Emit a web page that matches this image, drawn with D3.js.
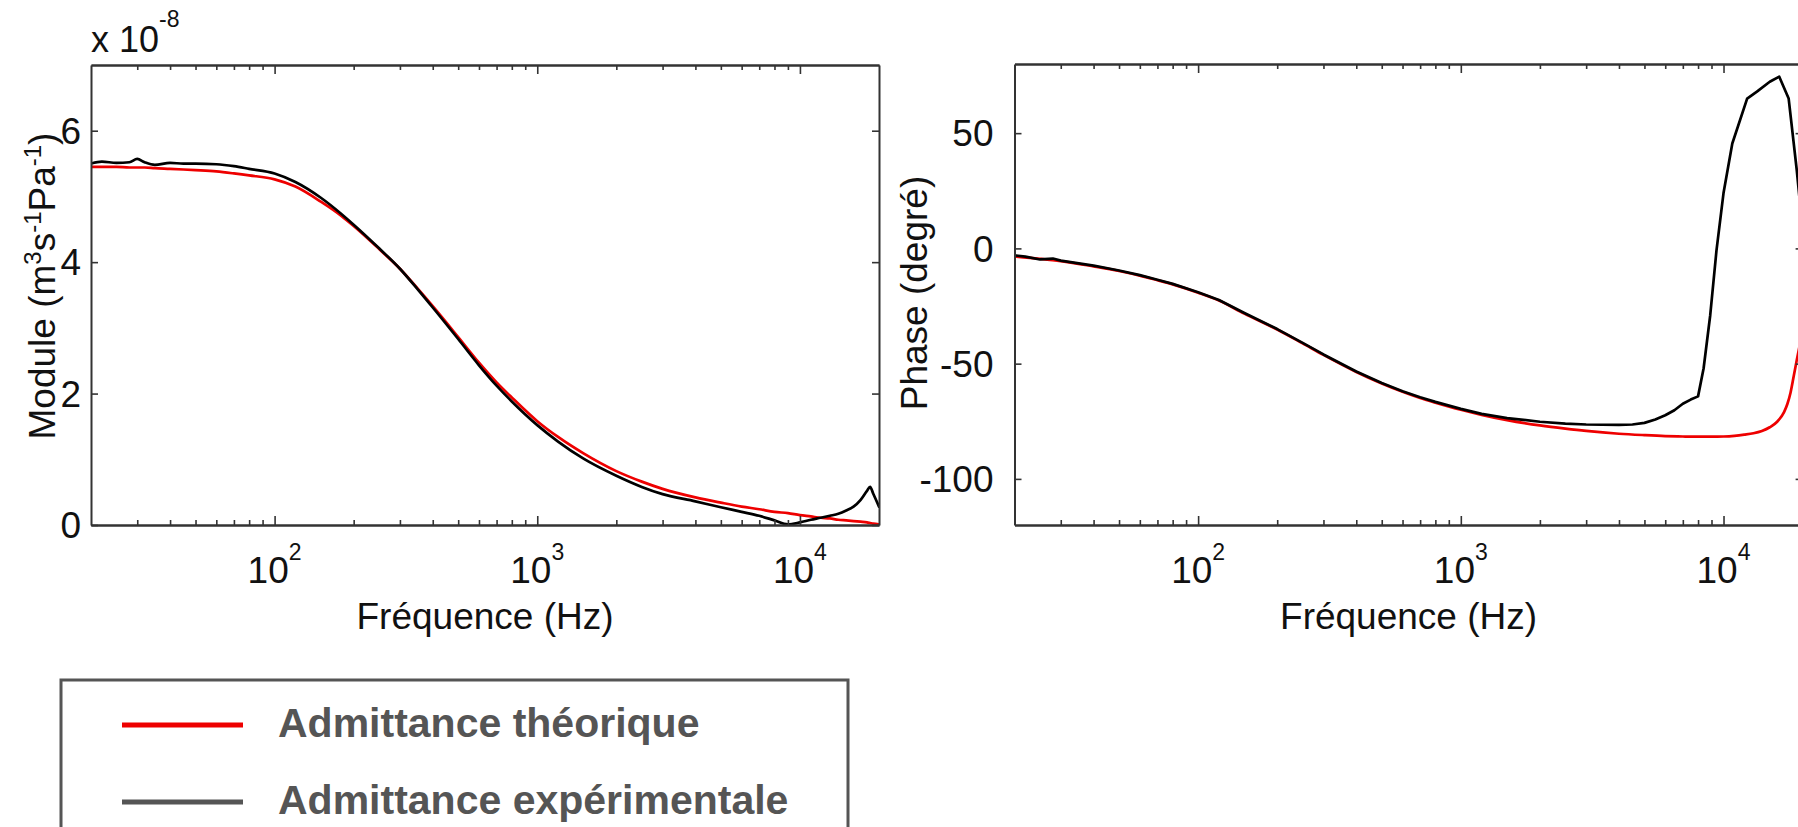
<!DOCTYPE html>
<html><head><meta charset="utf-8">
<script src="https://cdn.jsdelivr.net/npm/d3@7"></script>
<style>body{margin:0;background:#fff} svg{display:block} text{font-family:"Liberation Sans",Arial,Helvetica,sans-serif}</style>
</head><body><svg id="c" width="1798" height="827"></svg>
<script>
// ---------- DATA ----------
const moduleFreq = [20,22,25,28,30,32,35,40,45,50,60,70,80,100,120,150,180,200,250,300,350,400,500,600,700,800,1000,1200,1500,2000,2500,3000,4000,5000,6000,7000,8000,9000,10000,11000,12000,13000,14000,15000,16000,17000,18000,18500,19000,20000];
const moduleTheo = [5.45,5.45,5.45,5.44,5.44,5.44,5.43,5.42,5.41,5.40,5.38,5.35,5.32,5.26,5.15,4.92,4.70,4.55,4.20,3.90,3.60,3.33,2.86,2.47,2.17,1.94,1.58,1.34,1.09,0.82,0.66,0.55,0.42,0.34,0.28,0.24,0.20,0.18,0.15,0.13,0.11,0.10,0.08,0.07,0.06,0.05,0.04,0.03,0.02,0.01];
const moduleExp  = [5.50,5.53,5.51,5.52,5.57,5.52,5.48,5.51,5.50,5.50,5.49,5.46,5.42,5.35,5.22,4.98,4.73,4.57,4.21,3.90,3.59,3.31,2.83,2.43,2.12,1.88,1.52,1.27,1.01,0.75,0.58,0.47,0.36,0.27,0.20,0.14,0.07,0.01,0.04,0.08,0.11,0.14,0.17,0.22,0.28,0.38,0.52,0.58,0.48,0.28];

const phaseFreqTheo = [20,25,30,40,50,60,70,80,100,120,150,200,250,300,400,500,600,700,800,1000,1200,1500,2000,2500,3000,4000,5000,6000,7000,8000,9000,10000,11000,12000,13000,14000,15000,16000,17000,17500,18000,18500,19000,19500,20000];
const phaseTheo = [-3.5,-4.5,-5.5,-7.8,-9.8,-11.8,-13.8,-15.6,-19.2,-22.6,-28.3,-35.2,-41.2,-46.2,-53.6,-58.6,-62.2,-64.9,-66.9,-70.0,-72.2,-74.5,-76.8,-78.2,-79.2,-80.4,-81.0,-81.4,-81.6,-81.7,-81.7,-81.6,-81.3,-80.8,-80.2,-79.2,-77.6,-75.2,-71.0,-67.5,-62.5,-55.5,-48.5,-42.0,-36.0];
const phaseFreqExp = [20,22,25,28,30,40,50,60,70,80,100,120,150,200,250,300,400,500,600,700,800,1000,1200,1500,2000,2500,3000,4000,4500,5000,5500,6000,6500,7000,7500,8000,8400,8900,9400,10000,10800,12300,13400,15000,16300,17700,19000,20000];
const phaseExp = [-3.0,-3.6,-4.8,-4.4,-5.3,-7.5,-9.6,-11.6,-13.6,-15.4,-19.0,-22.4,-28.0,-35.0,-41.0,-46.0,-53.4,-58.4,-62.0,-64.6,-66.6,-69.6,-71.8,-73.6,-75.2,-76.0,-76.4,-76.6,-76.4,-75.7,-74.2,-72.4,-70.2,-67.4,-65.6,-64.2,-52.0,-29.0,-1.0,24.0,45.5,65.0,68.0,72.3,74.5,65.0,34.0,8.0];

const xDomain = [20, 20000];
const xMajorTicks = [100, 1000, 10000];
const xMajorExp = ["2", "3", "4"];
const moduleYTicks = [0, 2, 4, 6];
const phaseYTicks = [-100, -50, 0, 50];
const legendLabels = ["Admittance théorique", "Admittance expérimentale"];
const legendColors = ["#ee0000", "#555555"];

// ---------- DRAW ----------
const svg = d3.select("#c");
svg.append("rect").attr("width",1798).attr("height",827).attr("fill","#fff");

const xMinorTicks = [];
[10,100,1000].forEach(dec => { for (let k=2;k<=9;k++){ const v=dec*k; if (v>xDomain[0] && v<xDomain[1]) xMinorTicks.push(v);} });

function panel(p){
  const x = d3.scaleLog().domain(xDomain).range([p.x0, p.x1]);
  const y = d3.scaleLinear().domain(p.yDomain).range([p.y1, p.y0]);
  const g = svg.append("g");
  const cid = "clip" + p.id;
  svg.append("clipPath").attr("id", cid).append("rect")
    .attr("x", p.x0).attr("y", p.y0).attr("width", p.x1 - p.x0).attr("height", p.y1 - p.y0);

  p.series.forEach(s => {
    const line = d3.line().x(d => x(d[0])).y(d => y(d[1])).curve(s.curve);
    g.append("path").attr("clip-path", `url(#${cid})`)
      .datum(d3.zip(s.f, s.v)).attr("d", line)
      .attr("fill","none").attr("stroke", s.color).attr("stroke-width", 2.7)
      .attr("stroke-linejoin","round").attr("stroke-linecap","round");
  });

  const axStyle = sel => {
    sel.select(".domain").attr("stroke","#333").attr("stroke-width",2);
    sel.selectAll(".tick line").attr("stroke","#333").attr("stroke-width",1.6);
    sel.selectAll(".tick text").remove();
  };
  g.append("g").attr("transform",`translate(0,${p.y1})`)
    .call(d3.axisBottom(x).tickValues(xMajorTicks).tickSizeInner(-9).tickSizeOuter(0).tickFormat("")).call(axStyle);
  g.append("g").attr("transform",`translate(0,${p.y1})`)
    .call(d3.axisBottom(x).tickValues(xMinorTicks).tickSizeInner(-5).tickSizeOuter(0).tickFormat("")).call(axStyle);
  g.append("g").attr("transform",`translate(0,${p.y0})`)
    .call(d3.axisTop(x).tickValues(xMajorTicks).tickSizeInner(-9).tickSizeOuter(0).tickFormat("")).call(axStyle);
  g.append("g").attr("transform",`translate(0,${p.y0})`)
    .call(d3.axisTop(x).tickValues(xMinorTicks).tickSizeInner(-5).tickSizeOuter(0).tickFormat("")).call(axStyle);
  g.append("g").attr("transform",`translate(${p.x0},0)`)
    .call(d3.axisLeft(y).tickValues(p.yTicks).tickSizeInner(-7).tickSizeOuter(0).tickFormat("")).call(axStyle);
  g.append("g").attr("transform",`translate(${p.x1},0)`)
    .call(d3.axisRight(y).tickValues(p.yTicks).tickSizeInner(-7).tickSizeOuter(0).tickFormat("")).call(axStyle);

  xMajorTicks.forEach((v,i) => {
    const t = g.append("text").attr("x", x(v)).attr("y", 583).attr("text-anchor","middle")
      .attr("font-size", 37).attr("fill","#111");
    t.append("tspan").text("10");
    t.append("tspan").attr("dy", -23).attr("font-size", 23).text(xMajorExp[i]);
  });
  p.yTicks.forEach(v => {
    g.append("text").attr("x", p.x0 - p.labelGap).attr("y", y(v)).attr("dy","0.36em")
      .attr("text-anchor","end").attr("font-size", 37).attr("fill","#111").text(v);
  });
  g.append("text").attr("x", (p.x0 + p.x1)/2).attr("y", 629).attr("text-anchor","middle")
    .attr("font-size", 37).attr("fill","#111").text("Fréquence (Hz)");
  const yl = g.append("text").attr("transform",`translate(${p.yLabelX},${p.yLabelY}) rotate(-90)`)
    .attr("text-anchor","middle").attr("font-size",37).attr("fill","#111");
  p.yLabel(yl);
  return {x, y};
}

panel({
  id: "m", x0: 91, x1: 879, y0: 65, y1: 525, yDomain: [0, 7], yTicks: moduleYTicks, labelGap: 10,
  yLabelX: 55, yLabelY: 286,
  yLabel: t => {
    t.append("tspan").text("Module (m");
    t.append("tspan").attr("dy",-14).attr("font-size",24).text("3");
    t.append("tspan").attr("dy",14).text("s");
    t.append("tspan").attr("dy",-14).attr("font-size",24).text("-1");
    t.append("tspan").attr("dy",14).text("Pa");
    t.append("tspan").attr("dy",-14).attr("font-size",24).text("-1");
    t.append("tspan").attr("dy",14).text(")");
  },
  series: [
    {f: moduleFreq, v: moduleTheo, color: "#ee0000", curve: d3.curveMonotoneX},
    {f: moduleFreq, v: moduleExp, color: "#000", curve: d3.curveMonotoneX}
  ]
});

panel({
  id: "p", x0: 1014.5, x1: 1802.6, y0: 64, y1: 525, yDomain: [-120, 80], yTicks: phaseYTicks, labelGap: 21,
  yLabelX: 927, yLabelY: 293,
  yLabel: t => t.text("Phase (degré)"),
  series: [
    {f: phaseFreqTheo, v: phaseTheo, color: "#ee0000", curve: d3.curveMonotoneX},
    {f: phaseFreqExp, v: phaseExp, color: "#000", curve: d3.curveLinear}
  ]
});

const hdr = svg.append("text").attr("x", 91).attr("y", 52).attr("font-size", 36).attr("fill","#111");
hdr.append("tspan").text("x 10");
hdr.append("tspan").attr("dy",-25).attr("font-size",23).text("-8");

const lg = svg.append("g");
lg.append("rect").attr("x",61).attr("y",680).attr("width",787).attr("height",200)
  .attr("fill","#fff").attr("stroke","#555").attr("stroke-width",3);
const legendY = d3.scalePoint().domain(legendLabels).range([725, 802]);
legendLabels.forEach((lab,i) => {
  lg.append("line").attr("x1",122).attr("x2",243).attr("y1",legendY(lab)).attr("y2",legendY(lab))
    .attr("stroke",legendColors[i]).attr("stroke-width",5);
  lg.append("text").attr("x",278).attr("y",legendY(lab)).attr("dy",12)
    .attr("font-size",41).attr("font-weight","bold").attr("fill","#555").text(lab);
});
</script></body></html>
